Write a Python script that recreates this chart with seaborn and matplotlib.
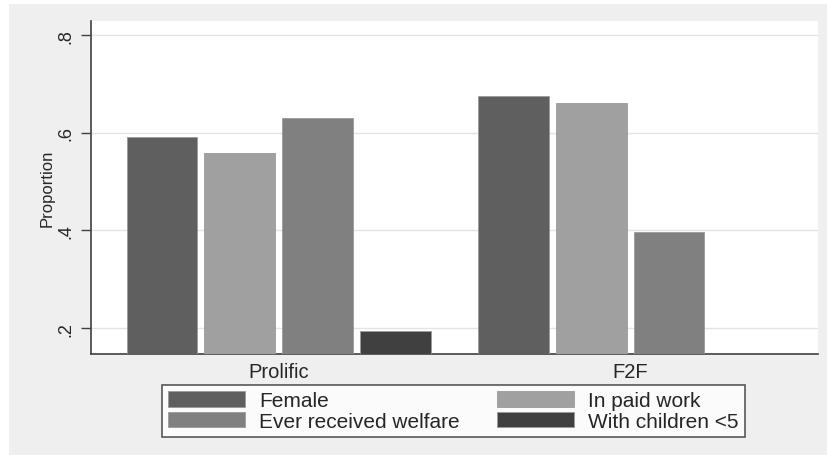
import pandas as pd
import matplotlib.pyplot as plt
import seaborn as sns
from matplotlib.patches import Rectangle, Patch

# Daten
gruppen = ["Prolific", "F2F"]
merkmale = ["Female", "In paid work", "Ever received welfare", "With children <5"]
prolific = [0.591, 0.558, 0.630, 0.194]
f2f = [0.676, 0.661, 0.397, None]
farben = ["#5f5f5f", "#a0a0a0", "#808080", "#404040"]
yticks = [0.2, 0.4, 0.6, 0.8]
ytick_labels = [".2", ".4", ".6", ".8"]

rows = []
for g, werte in zip(gruppen, [prolific, f2f]):
    for m, v in zip(merkmale, werte):
        if v is not None:
            rows.append({"gruppe": g, "merkmal": m, "wert": v})
df = pd.DataFrame(rows)

sns.set_style("white")
plt.rcParams["font.family"] = ["Liberation Sans", "DejaVu Sans"]

fig = plt.figure(figsize=(8.27, 4.56), dpi=100, facecolor="white")
# grauer Hintergrund wie bei Stata
fig.patches.append(Rectangle((9 / 827, 0), 1 - 9 / 827, 1 - 5 / 456,
                             transform=fig.transFigure, facecolor="#efefef",
                             edgecolor="none", zorder=-10))
ax = fig.add_axes([91 / 827, 1 - 355 / 456, (818 - 91) / 827, (355 - 22) / 456])
ax.set_facecolor("white")

sns.barplot(data=df, x="gruppe", y="wert", hue="merkmal", order=gruppen,
            hue_order=merkmale, palette=farben, width=0.885, gap=0.09,
            errorbar=None, saturation=1, edgecolor="#9a9a9a", linewidth=0.6,
            legend=False, ax=ax, zorder=3)

ax.set_xlim(-0.534, 1.535)
ax.set_ylim(0.147, 0.829)
ax.set_yticks(yticks)
ax.set_yticklabels(ytick_labels, rotation=90, va="center", fontsize=13)
for y in yticks:
    ax.axhline(y, color="#e4e4e4", linewidth=1, zorder=1)
ax.tick_params(axis="y", direction="out", length=7, width=1, color="#404040",
               left=True, pad=5)
ax.tick_params(axis="x", length=0, labelsize=14.5, pad=6)
ax.set_xlabel("")
ax.set_ylabel("Proportion", fontsize=12, labelpad=2)

for s in ["top", "right"]:
    ax.spines[s].set_visible(False)
for s in ["left", "bottom"]:
    ax.spines[s].set_color("#404040")
    ax.spines[s].set_linewidth(1.2)

# Legende zeilenweise
handles = [Patch(facecolor=c, edgecolor="#9a9a9a", linewidth=0.6) for c in farben]
reihenfolge = [0, 2, 1, 3]
leg = fig.legend([handles[i] for i in reihenfolge], [merkmale[i] for i in reihenfolge],
                 ncol=2, loc="center", bbox_to_anchor=(453.5 / 827, 1 - 412 / 456),
                 fontsize=15, frameon=True, fancybox=False, edgecolor="#303030",
                 handlelength=3.7, handleheight=0.75, handletextpad=0.67,
                 columnspacing=1.8, labelspacing=0.06, borderpad=0.3)
leg.get_frame().set_linewidth(1.2)
leg.get_frame().set_facecolor("white")

fig.savefig("out.png", dpi=100, facecolor=fig.get_facecolor())
